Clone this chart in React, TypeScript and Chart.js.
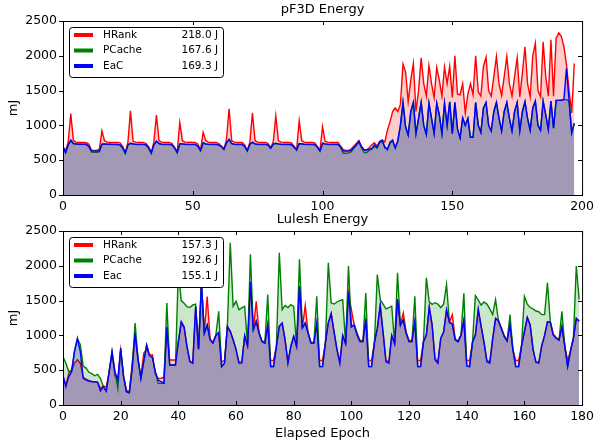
import React, { useEffect, useRef } from "react";
import { Chart, registerables } from "chart.js";
Chart.register(...registerables);

const FONT = "'DejaVu Sans', sans-serif";

// ---------- pF3D Energy (mJ per epoch) ----------
const pf3dHRank = [
  690, 640, 760, 1170, 780, 760, 755, 755, 755, 750,
  730, 640, 640, 640, 660, 920, 780, 760, 755, 755,
  755, 755, 750, 700, 610, 750, 1210, 770, 760, 755,
  755, 755, 740, 690, 610, 760, 1150, 780, 760, 755,
  755, 755, 740, 680, 620, 1040, 780, 760, 755, 760,
  755, 755, 730, 650, 900, 780, 760, 755, 755, 755,
  740, 700, 660, 800, 1240, 780, 760, 755, 755, 755,
  720, 640, 760, 1180, 780, 760, 755, 755, 755, 740,
  680, 760, 1135, 780, 760, 755, 755, 755, 750, 700,
  650, 1065, 780, 760, 755, 755, 755, 750, 700, 640,
  980, 770, 760, 755, 755, 755, 755, 700, 650, 640,
  640, 660, 700, 740, 780, 700, 650, 650, 680, 720,
  750, 700, 770, 790, 760, 930, 1050, 1200, 1250, 1200,
  1300, 1880, 1770, 1340, 1650, 1890, 1200, 1500, 1970, 1600,
  1420, 1860, 1600, 1400, 1830, 1650, 1420, 1840, 1600, 1850,
  1400, 2000, 1450, 1440, 1600, 1180, 1450, 1600, 1440, 2000,
  1480, 1420, 1850, 1980, 1500, 1420, 1700, 1990, 1600, 1430,
  1700, 1990, 1600, 1420, 1700, 1970, 1410, 1750, 2130, 1600,
  1410, 2000, 2180, 1500, 1410, 2200, 1700, 1420, 2230, 1420,
  2250, 2330, 2280, 2130, 1870, 1500, 1180, 1890,
];
const pf3dPCache = [
  690, 605, 715, 780, 738, 733, 728, 728, 728, 726,
  690, 615, 612, 612, 620, 728, 733, 728, 728, 726,
  726, 726, 718, 670, 595, 718, 740, 733, 728, 726,
  726, 726, 718, 670, 595, 718, 770, 738, 728, 726,
  726, 726, 718, 670, 605, 733, 733, 728, 726, 726,
  726, 726, 695, 630, 745, 733, 728, 726, 726, 726,
  718, 695, 650, 745, 795, 738, 728, 726, 726, 726,
  695, 630, 728, 755, 733, 728, 726, 726, 726, 718,
  668, 728, 740, 733, 728, 726, 726, 726, 722, 685,
  645, 735, 733, 728, 726, 726, 726, 722, 685, 630,
  740, 733, 728, 726, 726, 726, 726, 680, 600, 600,
  605, 620, 670, 715, 760, 680, 610, 610, 640, 660,
  700, 670, 750, 770, 700, 645, 740, 780, 670, 770,
  1000, 1330, 980, 860, 1200, 1330, 880, 1100, 1330, 1000,
  870, 1320, 1100, 880, 1320, 1150, 880, 1320, 1000, 1340,
  880, 1330, 950, 820, 1110, 1000, 1100, 830, 830, 1330,
  1000, 900, 1250, 1330, 1000, 920, 1200, 1330, 1100, 920,
  1200, 1330, 1100, 920, 1200, 1330, 920, 1200, 1340, 1100,
  930, 1250, 1350, 1000, 930, 1350, 1150, 940, 1350, 960,
  1360, 1360, 1365, 1370, 1370, 1350, 900, 1030,
];
const pf3dEaC = [
  690, 610, 720, 790, 740, 735, 730, 730, 730, 728,
  700, 635, 630, 630, 635, 730, 735, 730, 730, 728,
  728, 728, 720, 680, 605, 720, 745, 735, 730, 728,
  728, 728, 720, 680, 605, 720, 775, 740, 730, 728,
  728, 728, 720, 680, 615, 735, 735, 730, 728, 728,
  728, 728, 700, 640, 750, 735, 730, 728, 728, 728,
  720, 700, 660, 750, 800, 740, 730, 728, 728, 728,
  700, 636, 730, 760, 735, 730, 728, 728, 728, 720,
  675, 730, 745, 735, 730, 728, 728, 728, 725, 690,
  650, 740, 735, 730, 728, 728, 728, 725, 690, 636,
  745, 735, 730, 728, 728, 728, 728, 690, 630, 630,
  630, 640, 680, 720, 776, 694, 647, 647, 660, 670,
  720, 690, 766, 790, 680, 660, 760, 790, 680, 780,
  1000, 1330, 980, 860, 1200, 1330, 880, 1100, 1330, 1000,
  870, 1320, 1100, 880, 1320, 1150, 880, 1320, 1000, 1340,
  880, 1330, 950, 820, 1110, 1000, 1100, 830, 830, 1330,
  1000, 900, 1250, 1330, 1000, 920, 1200, 1330, 1100, 920,
  1200, 1330, 1100, 920, 1200, 1330, 920, 1200, 1340, 1100,
  930, 1250, 1350, 1000, 930, 1350, 1150, 940, 1350, 960,
  1360, 1360, 1360, 1370, 1820, 1350, 890, 1030,
];

// ---------- Lulesh Energy (mJ per epoch) ----------
const luleshHRank = [
  400, 290, 457, 500, 601, 649, 601, 400, 370, 350,
  340, 335, 330, 240, 274, 260, 470, 740, 420, 360,
  790, 420, 210, 190, 600, 1010, 650, 409, 745, 800,
  720, 721, 450, 380, 385, 400, 1110, 647, 647, 647,
  900, 1180, 1110, 830, 623, 610, 1400, 800, 1740, 1050,
  1557, 950, 900, 1000, 1040, 620, 640, 1120, 1058, 938,
  800, 620, 620, 990, 850, 1750, 1082, 1490, 1034, 920,
  900, 1150, 640, 640, 841, 1130, 1178, 938, 620, 841,
  986, 841, 1690, 1106, 1428, 1034, 900, 900, 1170, 640,
  640, 900, 1180, 1310, 1050, 800, 620, 1000, 880, 1610,
  1370, 1150, 1030, 930, 920, 1225, 640, 640, 900, 1100,
  1420, 1040, 640, 620, 1000, 880, 1510, 1149, 1322, 1050,
  930, 920, 1190, 640, 640, 910, 1006, 1400, 1150, 670,
  620, 960, 1050, 1360, 1190, 1298, 950, 920, 1000, 1215,
  640, 640, 900, 1006, 1370, 1130, 900, 640, 620, 950,
  1240, 1210, 1110, 1000, 930, 1150, 800, 640, 640, 850,
  1050, 1255, 1150, 800, 620, 620, 850, 1000, 1197, 1190,
  1020, 970, 940, 1125, 850, 640, 780, 960, 1240, 1202,
];
const luleshPCache = [
  694, 600, 480, 500, 780, 950, 870, 560, 530, 470,
  450, 420, 440, 380, 263, 201, 479, 766, 479, 240,
  814, 407, 192, 177, 527, 1178, 670, 383, 623, 862,
  709, 685, 479, 311, 311, 311, 1466, 575, 575, 575,
  1950, 1500, 1461, 1413, 1400, 1437, 1450, 800, 1760, 1030,
  1150, 940, 890, 1000, 1346, 551, 600, 1130, 2330, 1418,
  1490, 1370, 1394, 1418, 850, 2164, 1082, 1202, 1034, 913,
  889, 1586, 553, 553, 841, 2188, 1370, 1430, 1400, 1442,
  1418, 841, 2092, 1106, 1178, 1034, 889, 889, 1562, 551,
  551, 900, 2044, 1466, 1450, 1480, 1500, 1514, 880, 1995,
  1120, 1150, 1006, 910, 910, 1610, 551, 551, 900, 1875,
  1514, 1450, 1380, 1400, 1420, 880, 1899, 1149, 1221, 1029,
  910, 910, 1562, 551, 551, 910, 1827, 1484, 1446, 1470,
  1450, 1400, 1450, 1731, 1190, 1160, 935, 910, 1000, 1604,
  560, 551, 900, 1571, 1508, 1437, 1480, 1450, 1380, 1300,
  1514, 1210, 1100, 986, 920, 1300, 800, 551, 551, 850,
  1562, 1450, 1400, 1380, 1350, 1340, 1298, 1300, 1755, 1190,
  1006, 958, 933, 1346, 850, 551, 780, 960, 1995, 1514,
];
const luleshEac = [
  430, 263, 407, 479, 766, 958, 766, 383, 359, 345,
  335, 335, 325, 201, 263, 201, 479, 766, 479, 359,
  814, 407, 192, 177, 527, 1030, 670, 383, 623, 862,
  709, 685, 479, 359, 335, 311, 1125, 575, 575, 575,
  910, 1197, 1125, 838, 623, 599, 1418, 800, 1760, 1030,
  1150, 940, 890, 1000, 1040, 551, 600, 1130, 1058, 938,
  800, 601, 601, 1000, 850, 1770, 1082, 1202, 1034, 913,
  889, 1154, 553, 553, 841, 1130, 1178, 938, 600, 841,
  986, 841, 1707, 1106, 1178, 1034, 889, 889, 1178, 551,
  551, 900, 1180, 1317, 1050, 800, 599, 1000, 880, 1628,
  1120, 1150, 1006, 910, 910, 1230, 551, 551, 900, 1100,
  1437, 1040, 620, 600, 1000, 880, 1523, 1149, 1221, 1029,
  910, 910, 1197, 551, 551, 910, 1006, 1410, 1150, 650,
  600, 960, 1050, 1370, 1190, 1160, 935, 910, 1000, 1220,
  560, 551, 900, 1006, 1379, 1130, 900, 620, 600, 950,
  1245, 1210, 1100, 986, 920, 1150, 800, 551, 551, 850,
  1050, 1260, 1150, 800, 610, 600, 850, 1000, 1197, 1190,
  1006, 958, 933, 1125, 850, 551, 780, 960, 1245, 1202,
];

const pf3dEpochs = pf3dHRank.map((_, i) => i);
const luleshEpochs = luleshHRank.map((_, i) => i);

const pf3dXTicks = [0, 50, 100, 150, 200];
const luleshXTicks = [0, 20, 40, 60, 80, 100, 120, 140, 160, 180];
const yTicks = [0, 500, 1000, 1500, 2000, 2500];

const pf3dLegend = [
  { label: "HRank", value: "218.0 J" },
  { label: "PCache", value: "167.6 J" },
  { label: "EaC", value: "169.3 J" },
];
const luleshLegend = [
  { label: "HRank", value: "157.3 J" },
  { label: "PCache", value: "192.6 J" },
  { label: "Eac", value: "155.1 J" },
];

const LINE_COLORS = ["#ff0000", "#008000", "#0000ff"];
const FILL_COLORS = ["rgba(255,0,0,0.2)", "rgba(0,128,0,0.2)", "rgba(0,0,255,0.2)"];

const decorPlugin = {
  id: "decor",
  afterDraw(chart: any, _args: any, opts: any) {
    const { ctx, chartArea: a } = chart;
    const xs = chart.scales.x;
    const ys = chart.scales.y;
    ctx.save();
    ctx.strokeStyle = "#000";
    ctx.lineWidth = 1;
    ctx.beginPath();
    for (const t of opts.xTicks) {
      const p = Math.round(xs.getPixelForValue(t)) + 0.5;
      ctx.moveTo(p, a.bottom);
      ctx.lineTo(p, a.bottom - 4);
      ctx.moveTo(p, a.top);
      ctx.lineTo(p, a.top + 4);
    }
    for (const t of opts.yTicks) {
      const p = Math.round(ys.getPixelForValue(t)) + 0.5;
      ctx.moveTo(a.left - 4, p);
      ctx.lineTo(a.left, p);
      ctx.moveTo(a.right, p);
      ctx.lineTo(a.right - 4, p);
    }
    ctx.stroke();
    ctx.strokeRect(a.left + 0.5, a.top + 0.5, a.right - a.left, a.bottom - a.top);

    // legend box
    const bx = a.left + 6;
    const by = a.top + 6;
    const bw = 154;
    const bh = 50;
    ctx.beginPath();
    if (ctx.roundRect) ctx.roundRect(bx + 0.5, by + 0.5, bw, bh, 3);
    else ctx.rect(bx + 0.5, by + 0.5, bw, bh);
    ctx.fillStyle = "#fff";
    ctx.fill();
    ctx.strokeStyle = "#000";
    ctx.lineWidth = 1;
    ctx.stroke();
    opts.legend.forEach((it: any, i: number) => {
      const y = by + 8 + i * 15.5;
      ctx.strokeStyle = LINE_COLORS[i];
      ctx.lineWidth = 4;
      ctx.beginPath();
      ctx.moveTo(a.left + 11, y);
      ctx.lineTo(a.left + 30, y);
      ctx.stroke();
      ctx.fillStyle = "#000";
      ctx.font = `10.5px ${FONT}`;
      ctx.textBaseline = "middle";
      ctx.textAlign = "left";
      ctx.fillText(it.label, a.left + 40, y);
      ctx.textAlign = "right";
      ctx.fillText(it.value, bx + bw - 5, y);
    });

    // titles
    ctx.fillStyle = "#000";
    ctx.font = `13px ${FONT}`;
    ctx.textAlign = "center";
    ctx.textBaseline = "middle";
    const cx = (a.left + a.right) / 2;
    ctx.fillText(opts.title, cx, 10);
    if (opts.xTitle) ctx.fillText(opts.xTitle, cx, opts.xTitleY);
    ctx.save();
    ctx.translate(14, (a.top + a.bottom) / 2);
    ctx.rotate(-Math.PI / 2);
    ctx.fillText("mJ", 0, 0);
    ctx.restore();
    ctx.restore();
  },
};

function makeConfig(
  epochs: number[],
  series: number[][],
  xMax: number,
  xStep: number,
  xTicks: number[],
  legend: any[],
  title: string,
  xTitle: string | null,
  canvasH: number
): any {
  return {
    type: "line",
    data: {
      datasets: series.map((s, i) => ({
        label: legend[i].label,
        data: s.map((v, k) => ({ x: epochs[k], y: v })),
        borderColor: LINE_COLORS[i],
        backgroundColor: FILL_COLORS[i],
        borderWidth: 1.4,
        pointRadius: 0,
        fill: "origin",
        tension: 0,
        order: 3 - i,
      })),
    },
    options: {
      animation: false,
      responsive: false,
      devicePixelRatio: 1,
      events: [],
      layout: { padding: { left: 0, top: 21, right: 14, bottom: 0 } },
      plugins: {
        legend: { display: false },
        title: { display: false },
        tooltip: { enabled: false },
        decor: { xTicks, yTicks, legend, title, xTitle, xTitleY: 224 },
      },
      scales: {
        x: {
          type: "linear",
          min: 0,
          max: xMax,
          ticks: {
            stepSize: xStep,
            font: { family: FONT, size: 12.5 },
            color: "#000",
            padding: 4,
            maxRotation: 0,
            autoSkip: false,
            callback: (v: any) => String(v),
          },
          grid: { display: false, drawTicks: false },
          border: { display: false },
          afterFit: (s: any) => {
            s.height = canvasH - 195;
          },
        },
        y: {
          min: 0,
          max: 2500,
          ticks: {
            stepSize: 500,
            font: { family: FONT, size: 12.5 },
            color: "#000",
            padding: 6,
            callback: (v: any) => String(v),
          },
          grid: { display: false, drawTicks: false },
          border: { display: false },
          afterFit: (s: any) => {
            s.width = 63;
          },
        },
      },
    },
    plugins: [decorPlugin],
  };
}

export default function App() {
  const topRef = useRef<HTMLCanvasElement>(null);
  const botRef = useRef<HTMLCanvasElement>(null);
  useEffect(() => {
    const c1 = new Chart(
      topRef.current as HTMLCanvasElement,
      makeConfig(pf3dEpochs, [pf3dHRank, pf3dPCache, pf3dEaC], 200, 50, pf3dXTicks, pf3dLegend, "pF3D Energy", null, 217)
    );
    const c2 = new Chart(
      botRef.current as HTMLCanvasElement,
      makeConfig(luleshEpochs, [luleshHRank, luleshPCache, luleshEac], 180, 20, luleshXTicks, luleshLegend, "Lulesh Energy", "Elapsed Epoch", 233)
    );
    return () => {
      c1.destroy();
      c2.destroy();
    };
  }, []);
  return (
    <div style={{ position: "absolute", left: 0, top: 0, width: 598, height: 443, background: "#fff" }}>
      <canvas ref={topRef} width={598} height={217} style={{ position: "absolute", left: 0, top: 0 }} />
      <canvas ref={botRef} width={598} height={233} style={{ position: "absolute", left: 0, top: 210 }} />
    </div>
  );
}
